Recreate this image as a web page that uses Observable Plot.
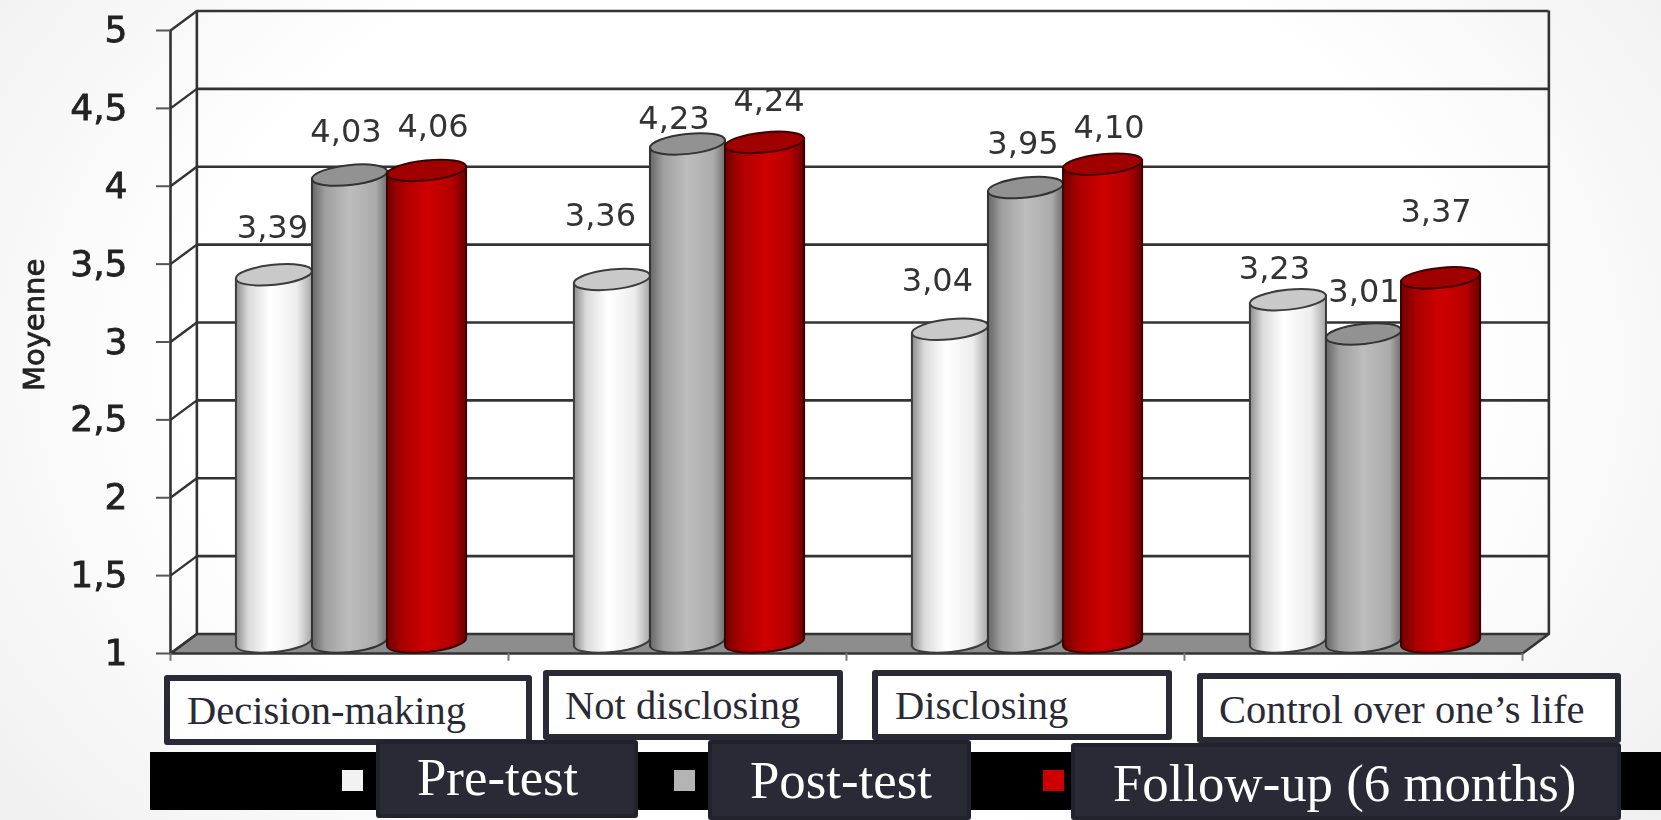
<!DOCTYPE html>
<html>
<head>
<meta charset="utf-8">
<script src="https://cdn.jsdelivr.net/npm/d3@7"></script>
<script src="https://cdn.jsdelivr.net/npm/@observablehq/plot@0.6"></script>
<style>
html,body{margin:0;padding:0;width:1661px;height:820px;overflow:hidden;
  background:radial-gradient(ellipse 62% 90% at 50% 45%,#ffffff 62%,#f0f0f0 100%);}
#wrap{position:relative;width:1661px;height:820px;}
#wrap svg{position:absolute;left:0;top:0;background:transparent;filter:blur(.45px);}
#wrap svg g[aria-label="y-axis tick label"] text,
#wrap svg text.ytitle{stroke:#222;stroke-width:.8px;}
.band{position:absolute;left:150px;right:0;top:752px;height:58px;background:#000;}
.sq{position:absolute;top:770px;width:21px;height:21px;}
.lab,.leg{position:absolute;box-sizing:border-box;font-family:"Liberation Serif",serif;white-space:nowrap;}
.lab{background:#fff;border:6px solid #2a2a36;border-radius:3px;color:#2a2a36;font-size:40.5px;}
.leg{background:#2a2a36;border:4px solid #22222c;border-radius:3px;color:#fff;font-size:52.8px;}
</style>
</head>
<body>
<div id="wrap"></div>
<script>
const categories = ["Decision-making", "Not disclosing", "Disclosing", "Control over one’s life"];
const seriesNames = ["Pre-test", "Post-test", "Follow-up (6 months)"];
const preTest = [3.39, 3.36, 3.04, 3.23];
const postTest = [4.03, 4.23, 3.95, 3.01];
const followUp = [4.06, 4.24, 4.10, 3.37];
const yTicks = [1, 1.5, 2, 2.5, 3, 3.5, 4, 4.5, 5];
const yTitle = "Moyenne";

// label nudges, pixels, per series then per category
const labelDx = [[-2, -12, -13, -14], [-4, -14, -3, 0], [6, 4, 6, -5]];
const labelDy = [[-54, -70, -55, -37], [-50, -32, -50, -49], [-50, -48, -43, -73]];

// layout of the pseudo-3D box, in scale units
const depthX = 0.078, depthY = 0.125;
const edges = [0.195, 0.42, 0.642, 0.876];
const styles = [
  {grad: "gWhite", top: "#c9c9c9", stroke: "#3c3c3c"},
  {grad: "gGray", top: "#929292", stroke: "#333"},
  {grad: "gRed", top: "#a00000", stroke: "#3d0000"}
];
const comma = v => String(v).replace(".", ",");
const fmt2 = v => v.toFixed(2).replace(".", ",");

function gradient(id, stops) {
  return `<linearGradient id="${id}" x1="0" x2="1" y1="0" y2="0">` +
    stops.map(([o, c]) => `<stop offset="${o}" stop-color="${c}"/>`).join("") + `</linearGradient>`;
}
const defs = () => {
  const g = document.createElementNS("http://www.w3.org/2000/svg", "defs");
  g.innerHTML =
    gradient("gWhite", [[0, "#8c8c8c"], [0.16, "#dadada"], [0.45, "#ffffff"], [0.8, "#ededed"], [1, "#a8a8a8"]]) +
    gradient("gGray", [[0, "#666"], [0.18, "#a0a0a0"], [0.5, "#bdbdbd"], [0.85, "#ababab"], [1, "#707070"]]) +
    gradient("gRed", [[0, "#700000"], [0.18, "#a80000"], [0.5, "#cf0000"], [0.82, "#b50000"], [1, "#6a0000"]]);
  return g;
};

function cylinder(style) {
  return function (index, scales, values) {
    const ns = "http://www.w3.org/2000/svg";
    const g = document.createElementNS(ns, "g");
    for (const i of index) {
      const xa = values.x1[i], xb = values.x2[i];
      const w = xb - xa, rise = 8;
      const rx = Math.hypot(w, rise) / 2, ry = 10;
      const rot = -Math.atan2(rise, w) * 180 / Math.PI;
      const yTop = values.y2[i] - 6, yBase = values.y1[i] - 11;
      const body = document.createElementNS(ns, "path");
      body.setAttribute("d",
        `M${xa},${yTop + rise / 2}L${xa},${yBase + rise / 2}` +
        `A${rx},${ry} ${rot} 0 0 ${xb},${yBase - rise / 2}L${xb},${yTop - rise / 2}Z`);
      body.setAttribute("fill", `url(#${style.grad})`);
      body.setAttribute("stroke", style.stroke);
      body.setAttribute("stroke-width", 2);
      g.appendChild(body);
      const top = document.createElementNS(ns, "ellipse");
      top.setAttribute("cx", (xa + xb) / 2);
      top.setAttribute("cy", yTop);
      top.setAttribute("rx", rx);
      top.setAttribute("ry", ry);
      top.setAttribute("transform", `rotate(${rot} ${(xa + xb) / 2} ${yTop})`);
      top.setAttribute("fill", style.top);
      top.setAttribute("stroke", style.stroke);
      top.setAttribute("stroke-width", 2);
      g.appendChild(top);
    }
    return g;
  };
}

const seriesValues = [preTest, postTest, followUp];
const rows = seriesValues.map((vals, s) => vals.map((v, c) => ({
  c, s, v,
  x1: c + edges[s], x2: c + edges[s + 1],
  mid: c + (edges[s] + edges[s + 1]) / 2,
  dx: labelDx[s][c], dy: labelDy[s][c]
})));

const ink = "#333";
const floor = [[0, 1], [4, 1], [4 + depthX, 1 + depthY], [depthX, 1 + depthY], [0, 1]];

const chart = Plot.plot({
  width: 1661, height: 820,
  marginLeft: 170, marginRight: 139, marginTop: 30, marginBottom: 167,
  x: {domain: [0, 4], axis: null},
  y: {domain: [1, 5], ticks: yTicks},
  style: {background: "transparent", overflow: "visible"},
  marks: [
    defs,
    Plot.line(floor, {x: d => d[0], y: d => d[1], fill: "#8d8d8d", stroke: ink, strokeWidth: 2.5}),
    Plot.ruleY(yTicks.slice(1), {x1: depthX, x2: 4 + depthX, y: d => d + depthY, stroke: ink, strokeWidth: 2.6, strokeOpacity: 1}),
    Plot.link(yTicks, {x1: 0, x2: depthX, y1: d => d, y2: d => d + depthY, stroke: ink, strokeWidth: 2.4}),
    Plot.ruleX([0], {y1: 1, y2: 5, stroke: ink, strokeWidth: 2.6}),
    Plot.ruleX([depthX, 4 + depthX], {y1: 1 + depthY, y2: 5 + depthY, stroke: ink, strokeWidth: 2.6}),
    Plot.ruleX([0, 1, 2, 3, 4], {y1: 1, y2: 0.95, stroke: "#777", strokeWidth: 2}),
    Plot.axisY({
      ticks: yTicks, tickSize: 14, tickPadding: 29, tickFormat: comma, label: null,
      fontSize: 36, fill: "#222", stroke: "#555", strokeWidth: 2,
      fontFamily: "DejaVu Sans", ariaLabel: "y-axis"
    }),
    ...rows.map((r, s) => Plot.rect(r, {
      x1: "x1", x2: "x2", y1: () => 1, y2: "v", render: cylinder(styles[s])
    })),
    ...rows.flat().map(r => Plot.text([r], {
      x: "mid", y: "v", text: d => fmt2(d.v), dx: r.dx, dy: r.dy,
      fontSize: 32, fill: "#333", fontFamily: "DejaVu Sans", lineAnchor: "middle"
    })),
    Plot.text([yTitle], {
      x: 0, y: () => 3.11, dx: -136, rotate: -90, fontSize: 29,
      fill: "#222", fontFamily: "DejaVu Sans", lineAnchor: "middle", className: "ytitle"
    })
  ]
});

const wrap = document.getElementById("wrap");
wrap.appendChild(chart);
// semi-bold look of the tick labels and axis title
chart.querySelectorAll('g[aria-label="y-axis tick label"] text, g[aria-label="text"] text').forEach(t => {
  if (/^[\d,]{1,3}$/.test(t.textContent) || t.textContent === yTitle) {
    t.setAttribute("stroke", "#222");
    t.setAttribute("stroke-width", "0.8");
  }
});

function addDiv(cls, css, text) {
  const d = document.createElement("div");
  d.className = cls;
  d.style.cssText = css;
  if (text) d.textContent = text;
  wrap.appendChild(d);
  return d;
}
addDiv("band", "");
["#f2f2f2", "#b4b4b4", "#cc0000"].forEach((c, i) =>
  addDiv("sq", `left:${[342, 674, 1043][i]}px;background:${c};`));

const labBoxes = [
  [164, 675, 368, 70, 17, 46],
  [543, 670, 300, 70, 16, 46],
  [872, 670, 300, 70, 17, 46],
  [1197, 673, 424, 70, 16, 47]
];
categories.forEach((t, i) => {
  const [l, tp, w, h, pad, lh] = labBoxes[i];
  addDiv("lab", `left:${l}px;top:${tp}px;width:${w}px;height:${h}px;padding-left:${pad}px;line-height:${2 * lh - 6 - 26}px;`, t);
});
const legBoxes = [
  [376, 740, 262, 78, 37, 66],
  [708, 740, 263, 80, 38, 73],
  [1071, 743, 550, 77, 38, 73]
];
seriesNames.forEach((t, i) => {
  const [l, tp, w, h, pad, lh] = legBoxes[i];
  addDiv("leg", `left:${l}px;top:${tp}px;width:${w}px;height:${h}px;padding-left:${pad}px;line-height:${lh}px;`, t);
});
</script>
</body>
</html>
